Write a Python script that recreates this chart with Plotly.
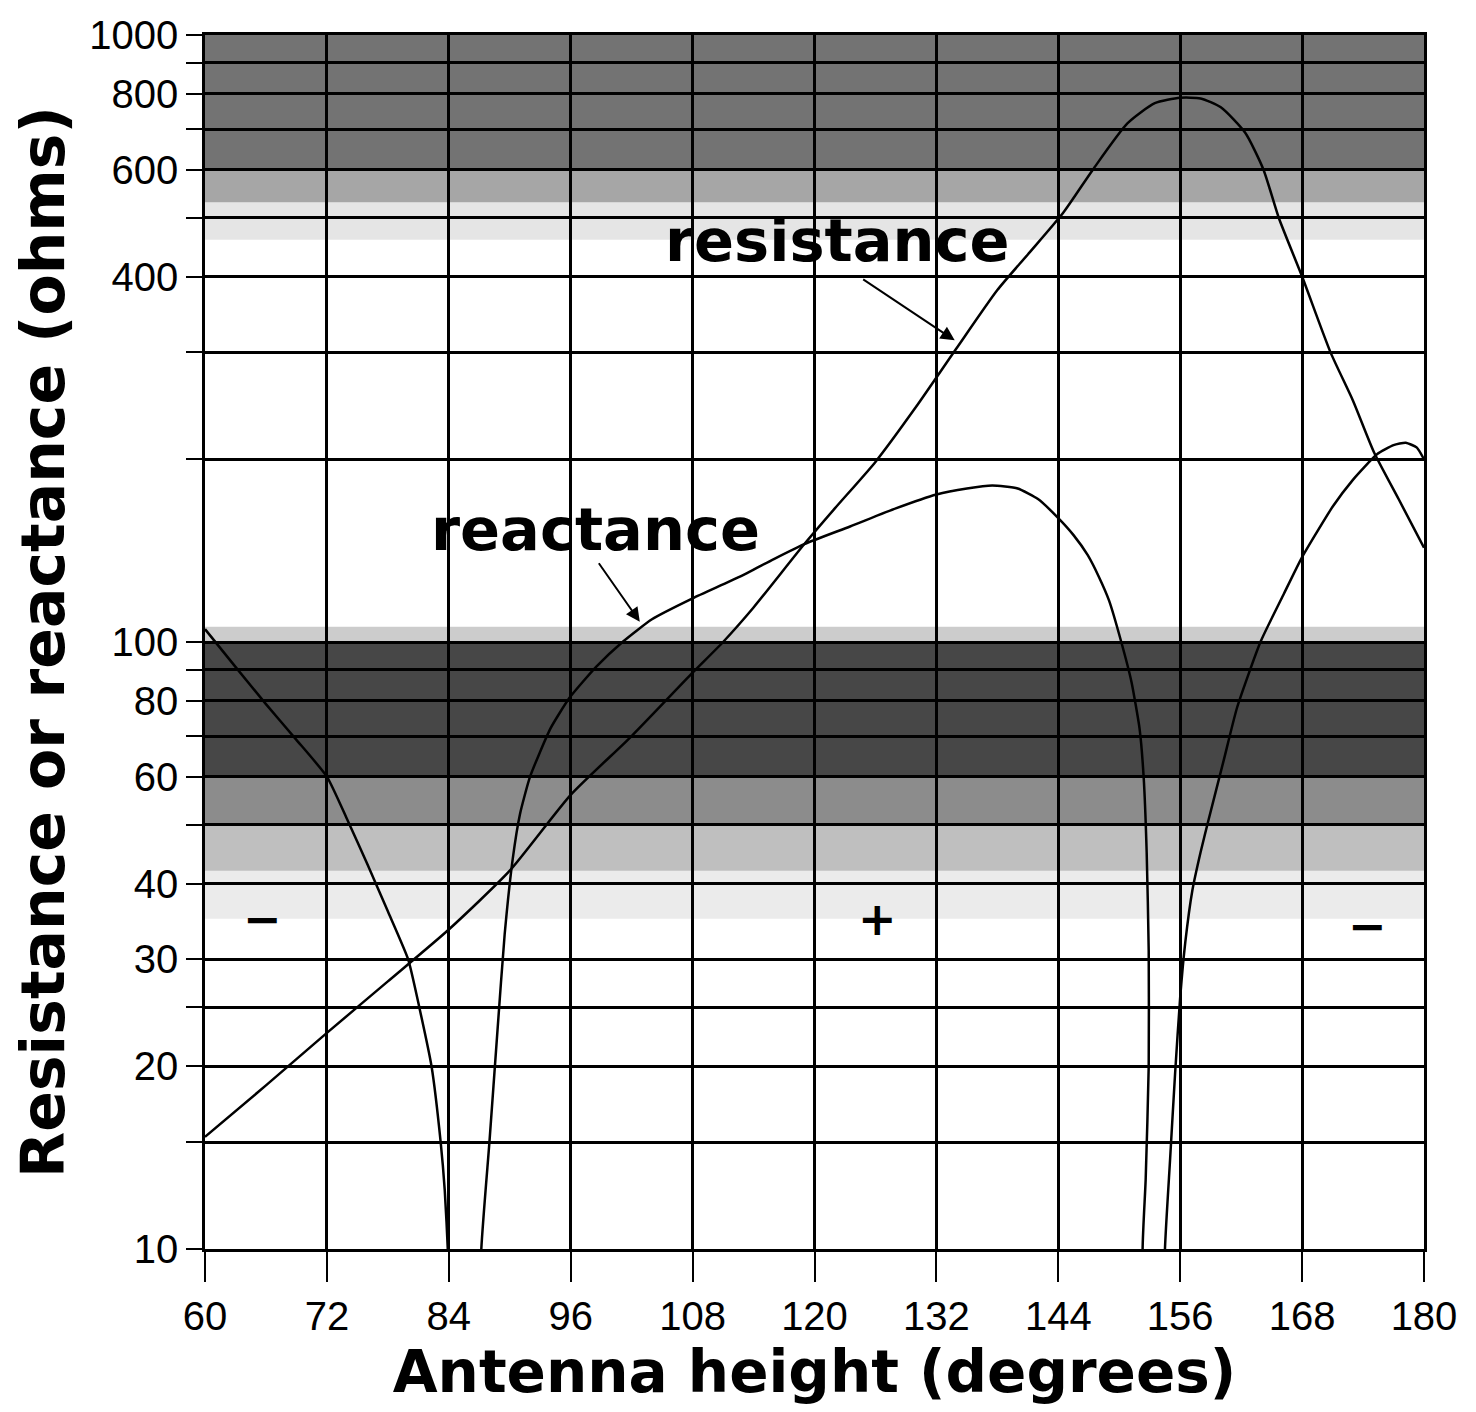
"""Antenna resistance and reactance vs height"""

import math
import plotly.graph_objects as go

# resistance (ohms) vs antenna height (degrees)
res_deg = [60, 66, 72, 78, 84, 90, 96, 102, 108, 111, 114, 119, 122, 126, 130, 134, 138, 141,
           144.5, 147.4, 150.8, 153.5, 156, 158, 160, 162.4, 164.2, 165.7, 168, 170.8, 173,
           175.1, 177.5, 180]
res_ohms = [15.3, 18.6, 22.7, 27.6, 33.6, 42, 56, 70, 89, 100, 114, 145, 166, 198, 244, 305, 380, 435,
            510, 600, 715, 772, 788, 786, 760, 690, 600, 500, 400, 300, 250,
            205, 172, 143]

# |reactance| (ohms); sign changes at the dips (- / + / -)
react_deg = [60, 63, 66, 69, 72, 74, 76, 78, 80, 81.1, 82.3, 83.2, 83.6, 83.9, 85.5,
             87.2, 88.0, 88.8, 89.5, 90.3, 91.0, 92.0, 94, 95.9, 98.5, 101.1, 104, 108, 112.6,
             116, 119, 123.5, 128, 132, 135, 137.5, 140, 142, 144, 145.5, 146.9, 148, 149,
             150.2, 151.2, 152, 152.4, 152.7, 152.9, 152.9, 152.6, 152.3, 153.4,
             154.5, 155.0, 155.5, 156.0, 156.5, 157.2, 158.0, 158.8, 160.3, 161.6, 163.9, 166.2, 168,
             171, 173, 175.4, 177, 178.2, 179.3, 180]
react_ohms = [105, 91, 79, 69, 60, 51, 43, 36, 30, 25, 20, 15, 12.5, 10, 1,
              10, 15, 23, 33, 44, 52, 60, 72, 81, 91, 100, 109, 118, 128,
              137, 145, 155, 166, 175, 179, 181, 179, 172, 160, 150, 139, 128, 117,
              100, 86, 72, 60, 45, 31, 20, 13, 10, 1,
              10, 14, 19.5, 26, 32, 39, 45, 51, 64, 78, 100, 120, 138,
              167, 185, 204, 211, 213, 209, 200]

x_ticks = list(range(60, 181, 12))
y_grid = [10, 15, 20, 25, 30, 40, 50, 60, 70, 80, 90, 100, 200, 300, 400, 500, 600, 700, 800, 900, 1000]
y_labeled = [10, 20, 30, 40, 60, 80, 100, 400, 600, 800, 1000]

# grey halftone bands of the scanned graph paper: (low, high, opacity)
bands = [(460, 530, 0.10), (530, 600, 0.35), (600, 1000, 0.55),
         (35, 42, 0.08), (42, 50, 0.25), (50, 60, 0.45), (60, 100, 0.72), (100, 106, 0.2)]

BOLD = 'DejaVu Sans'
THIN = 'Liberation Sans'

fig = go.Figure()
fig.add_trace(go.Scatter(x=res_deg, y=res_ohms, mode='lines', name='resistance',
                         line=dict(color='black', width=2.5, shape='spline', smoothing=0.6)))
fig.add_trace(go.Scatter(x=react_deg, y=react_ohms, mode='lines', name='reactance',
                         line=dict(color='black', width=2.5, shape='spline', smoothing=0.5)))

for lo, hi, op in bands:
    fig.add_shape(type='rect', xref='x', yref='y', x0=60, x1=180, y0=lo, y1=hi,
                  fillcolor='black', opacity=op, line_width=0, layer='below')

ann_font = dict(family=BOLD, size=59, color='black')
fig.add_annotation(x=122.3, y=math.log10(459), text='<b>resistance</b>', showarrow=False, font=ann_font)
fig.add_annotation(x=98.4, y=math.log10(153), text='<b>reactance</b>', showarrow=False, font=ann_font)
fig.add_annotation(x=133.8, y=math.log10(314), text='', showarrow=True, ax=-93, ay=-62,
                   arrowhead=2, arrowsize=1.4, arrowwidth=2, arrowcolor='black')
fig.add_annotation(x=102.8, y=math.log10(108), text='', showarrow=True, ax=-42, ay=-60,
                   arrowhead=2, arrowsize=1.4, arrowwidth=2, arrowcolor='black')
for sx, sy, s in [(65.7, 35, '\u2212'), (126.2, 35, '+'), (174.4, 34, '\u2212')]:
    fig.add_annotation(x=sx, y=math.log10(sy), text='<b>' + s + '</b>', showarrow=False,
                       font=dict(family=BOLD, size=46, color='black'))

fig.update_xaxes(range=[60, 180], tickvals=x_ticks, ticks='outside', ticklen=30, tickwidth=2,
                 tickcolor='black', showgrid=True, gridcolor='black', gridwidth=2.5,
                 showline=True, linecolor='black', linewidth=2.5, mirror=True, zeroline=False,
                 tickfont=dict(family=THIN, size=40, color='black'),
                 title=dict(text='<b>Antenna height (degrees)</b>', standoff=14,
                            font=dict(family=BOLD, size=58, color='black')))
fig.update_yaxes(type='log', range=[1, 3], tickvals=y_grid,
                 ticktext=[str(v) if v in y_labeled else '' for v in y_grid],
                 ticks='outside', ticklen=16, tickwidth=2, tickcolor='black',
                 showgrid=True, gridcolor='black', gridwidth=2.5,
                 showline=True, linecolor='black', linewidth=2.5, mirror=True, zeroline=False,
                 tickfont=dict(family=THIN, size=40, color='black'),
                 title=dict(text='<b>Resistance or reactance (ohms)</b>', standoff=12,
                            font=dict(family=BOLD, size=60, color='black')))
fig.update_layout(width=1476, height=1412, margin=dict(l=197, r=60, t=27, b=171, autoexpand=False),
                  plot_bgcolor='white', paper_bgcolor='white', showlegend=False)

fig.write_html("out.html")
